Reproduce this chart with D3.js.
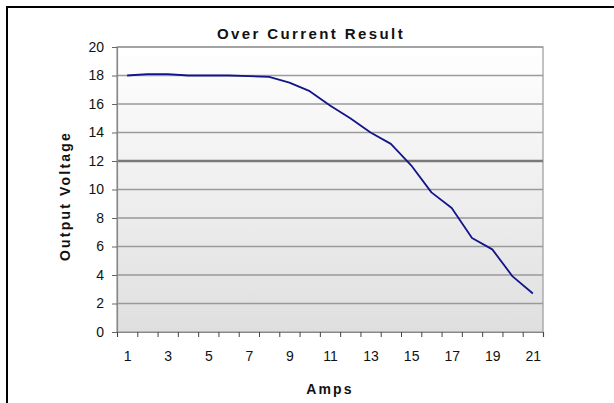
<!DOCTYPE html>
<html>
<head>
<meta charset="utf-8">
<script src="https://cdn.jsdelivr.net/npm/d3@7"></script>
<style>
  body { margin: 0; background: #fff; }
  svg { display: block; font-family: "Liberation Sans", Arial, sans-serif; }
</style>
</head>
<body>
<div id="chart"></div>
<script>
const width = 614;
const height = 403;

// data
const amps = [1, 2, 3, 4, 5, 6, 7, 8, 9, 10, 11, 12, 13, 14, 15, 16, 17, 18, 19, 20, 21];
const voltage = [18.0, 18.1, 18.1, 18.0, 18.0, 18.0, 17.95, 17.9, 17.5, 16.9, 15.9, 15.0, 14.0, 13.2, 11.7, 9.8, 8.7, 6.6, 5.8, 3.9, 2.7];
const xLabels = [1, 3, 5, 7, 9, 11, 13, 15, 17, 19, 21];
const yTicks = [0, 2, 4, 6, 8, 10, 12, 14, 16, 18, 20];

const plot = { left: 117, right: 543, top: 47, bottom: 332 };

const svg = d3.select("#chart")
    .append("svg")
    .attr("width", width)
    .attr("height", height);

// outer frame (only top and left edges show)
svg.append("rect")
    .attr("x", 7).attr("y", 7)
    .attr("width", 640).attr("height", 420)
    .attr("fill", "none")
    .attr("stroke", "#000")
    .attr("stroke-width", 2);

const x = d3.scaleLinear()
    .domain([0.5, 21.5])
    .range([plot.left, plot.right]);

const y = d3.scaleLinear()
    .domain([0, 20])
    .range([plot.bottom, plot.top]);

// plot background gradient
const defs = svg.append("defs");
const grad = defs.append("linearGradient")
    .attr("id", "bg-grad")
    .attr("x1", 0).attr("y1", 0).attr("x2", 0).attr("y2", 1);
grad.append("stop").attr("offset", "0%").attr("stop-color", "#ffffff");
grad.append("stop").attr("offset", "100%").attr("stop-color", "#dfdfdf");

svg.append("rect")
    .attr("x", plot.left)
    .attr("y", plot.top)
    .attr("width", plot.right - plot.left)
    .attr("height", plot.bottom - plot.top)
    .attr("fill", "url(#bg-grad)")
    .attr("stroke", "#999")
    .attr("stroke-width", 1.2);

// gridlines
svg.append("g")
    .selectAll("line")
    .data(yTicks.filter(d => d > 0))
    .enter()
    .append("line")
    .attr("x1", plot.left)
    .attr("x2", plot.right)
    .attr("y1", d => y(d))
    .attr("y2", d => y(d))
    .attr("stroke", d => d === 12 ? "#7a7a7a" : "#9a9a9a")
    .attr("stroke-width", d => d === 12 ? 2.6 : 1.3);

// y axis
const yAxis = svg.append("g")
    .attr("transform", `translate(${plot.left},0)`)
    .call(d3.axisLeft(y).tickValues(yTicks).tickSize(5).tickPadding(8).tickFormat(d3.format("d")));
yAxis.select(".domain").attr("stroke", "#888").attr("stroke-width", 1.2);
yAxis.selectAll(".tick line").attr("stroke", "#666");
yAxis.selectAll("text")
    .attr("font-size", "14px")
    .attr("fill", "#111")
    .attr("font-family", "Liberation Sans, Arial, sans-serif");

// x axis: tick marks between categories
const xTicksAxis = svg.append("g")
    .attr("transform", `translate(0,${plot.bottom})`)
    .call(d3.axisBottom(x).tickValues(amps.map(d => d - 0.5).concat([21.5])).tickSize(5).tickFormat(""));
xTicksAxis.select(".domain").attr("stroke", "#888").attr("stroke-width", 1.2);
xTicksAxis.selectAll(".tick line").attr("stroke", "#444");

// x axis labels at category centres
const xLabelAxis = svg.append("g")
    .attr("transform", `translate(0,${plot.bottom})`)
    .call(d3.axisBottom(x).tickValues(xLabels).tickSize(0).tickPadding(19));
xLabelAxis.select(".domain").remove();
xLabelAxis.selectAll("text")
    .attr("font-size", "14px")
    .attr("fill", "#111")
    .attr("font-family", "Liberation Sans, Arial, sans-serif");

// the line
const line = d3.line()
    .x((d, i) => x(amps[i]))
    .y(d => y(d));

svg.append("path")
    .datum(voltage)
    .attr("d", line)
    .attr("fill", "none")
    .attr("stroke", "#14148a")
    .attr("stroke-width", 1.8)
    .attr("stroke-linejoin", "round");

// titles
svg.append("text")
    .attr("x", 311)
    .attr("y", 39)
    .attr("text-anchor", "middle")
    .attr("font-size", "15px")
    .attr("font-weight", "bold")
    .attr("letter-spacing", "2.4px")
    .attr("fill", "#111")
    .text("Over Current Result");

svg.append("text")
    .attr("x", 330)
    .attr("y", 394)
    .attr("text-anchor", "middle")
    .attr("font-size", "14px")
    .attr("font-weight", "bold")
    .attr("letter-spacing", "2.2px")
    .attr("fill", "#111")
    .text("Amps");

svg.append("text")
    .attr("transform", "translate(70,196) rotate(-90)")
    .attr("text-anchor", "middle")
    .attr("font-size", "14px")
    .attr("font-weight", "bold")
    .attr("letter-spacing", "2.2px")
    .attr("fill", "#111")
    .text("Output Voltage");
</script>
</body>
</html>
